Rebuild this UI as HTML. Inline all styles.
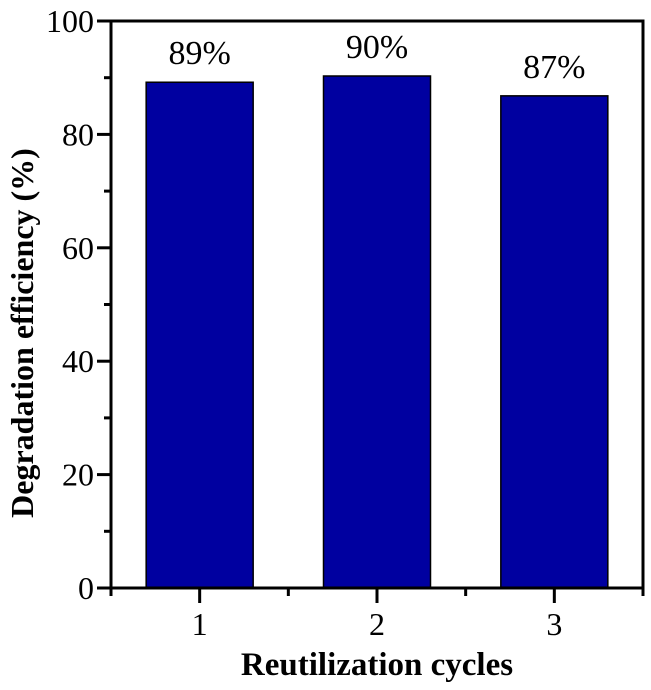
<!DOCTYPE html>
<html><head><meta charset="utf-8"><style>
html,body{margin:0;padding:0;background:#fff;}
svg{display:block;font-family:"Liberation Serif",serif;}
</style></head><body>
<svg id="chart" width="651" height="690">
<g id="marks"></g>
<g id="axes"></g>
<text x="377" y="675" text-anchor="middle" font-size="33" font-weight="bold">Reutilization cycles</text>
<text transform="translate(33,333) rotate(-90)" text-anchor="middle" font-size="32" font-weight="bold">Degradation efficiency (%)</text>
</svg>
<script>
const categories = ["1","2","3"];
const values = [89.2, 90.3, 86.8];
const valueLabels = ["89%","90%","87%"];
const yTicks = [0,20,40,60,80,100];
const yMinor = [10,30,50,70,90];

const L=111,R=643,T=21,B=588,NS="http://www.w3.org/2000/svg";
const y=v=>B-(v/100)*(B-T);
const x=i=>L+(i+0.5)*(R-L)/categories.length;
const bw=107;
function el(tag,attrs,parent,text){const e=document.createElementNS(NS,tag);for(const k in attrs)e.setAttribute(k,attrs[k]);if(text!==undefined)e.textContent=text;parent.appendChild(e);return e;}
const marks=document.getElementById('marks'),axes=document.getElementById('axes');
values.forEach((v,i)=>{
  const r=el('rect',{x:x(i)-bw/2,y:y(v),width:bw,height:B-y(v),fill:'#0000a0',stroke:'#000','stroke-width':1.5},marks);
  
  
  const t=el('text',{x:x(i),y:y(v)-18,'text-anchor':'middle','font-size':34},marks,valueLabels[i]);
  
  
});
const fr=el('rect',{x:L,y:T,width:R-L,height:B-T,fill:'none',stroke:'#000','stroke-width':3},axes);


yTicks.forEach(v=>{
  const ln=el('line',{x1:L-14,x2:L,y1:y(v),y2:y(v),stroke:'#000','stroke-width':3},axes);
  
  
  const t=el('text',{x:L-17,y:y(v)+11,'text-anchor':'end','font-size':32},axes,String(v));
  
  
});
yMinor.forEach(v=>{
  const ln=el('line',{x1:L-7,x2:L,y1:y(v),y2:y(v),stroke:'#000','stroke-width':3},axes);
  
  
});
categories.forEach((c,i)=>{
  const ln=el('line',{x1:x(i),x2:x(i),y1:B,y2:B+15,stroke:'#000','stroke-width':3},axes);
  
  
  const t=el('text',{x:x(i),y:B+47,'text-anchor':'middle','font-size':32},axes,c);
  
  
});
for(let i=0;i<=categories.length;i++){
  const xx=L+i*(R-L)/categories.length;
  const ln=el('line',{x1:xx,x2:xx,y1:B,y2:B+8,stroke:'#000','stroke-width':3},axes);
  
  
}
</script>
</body></html>
